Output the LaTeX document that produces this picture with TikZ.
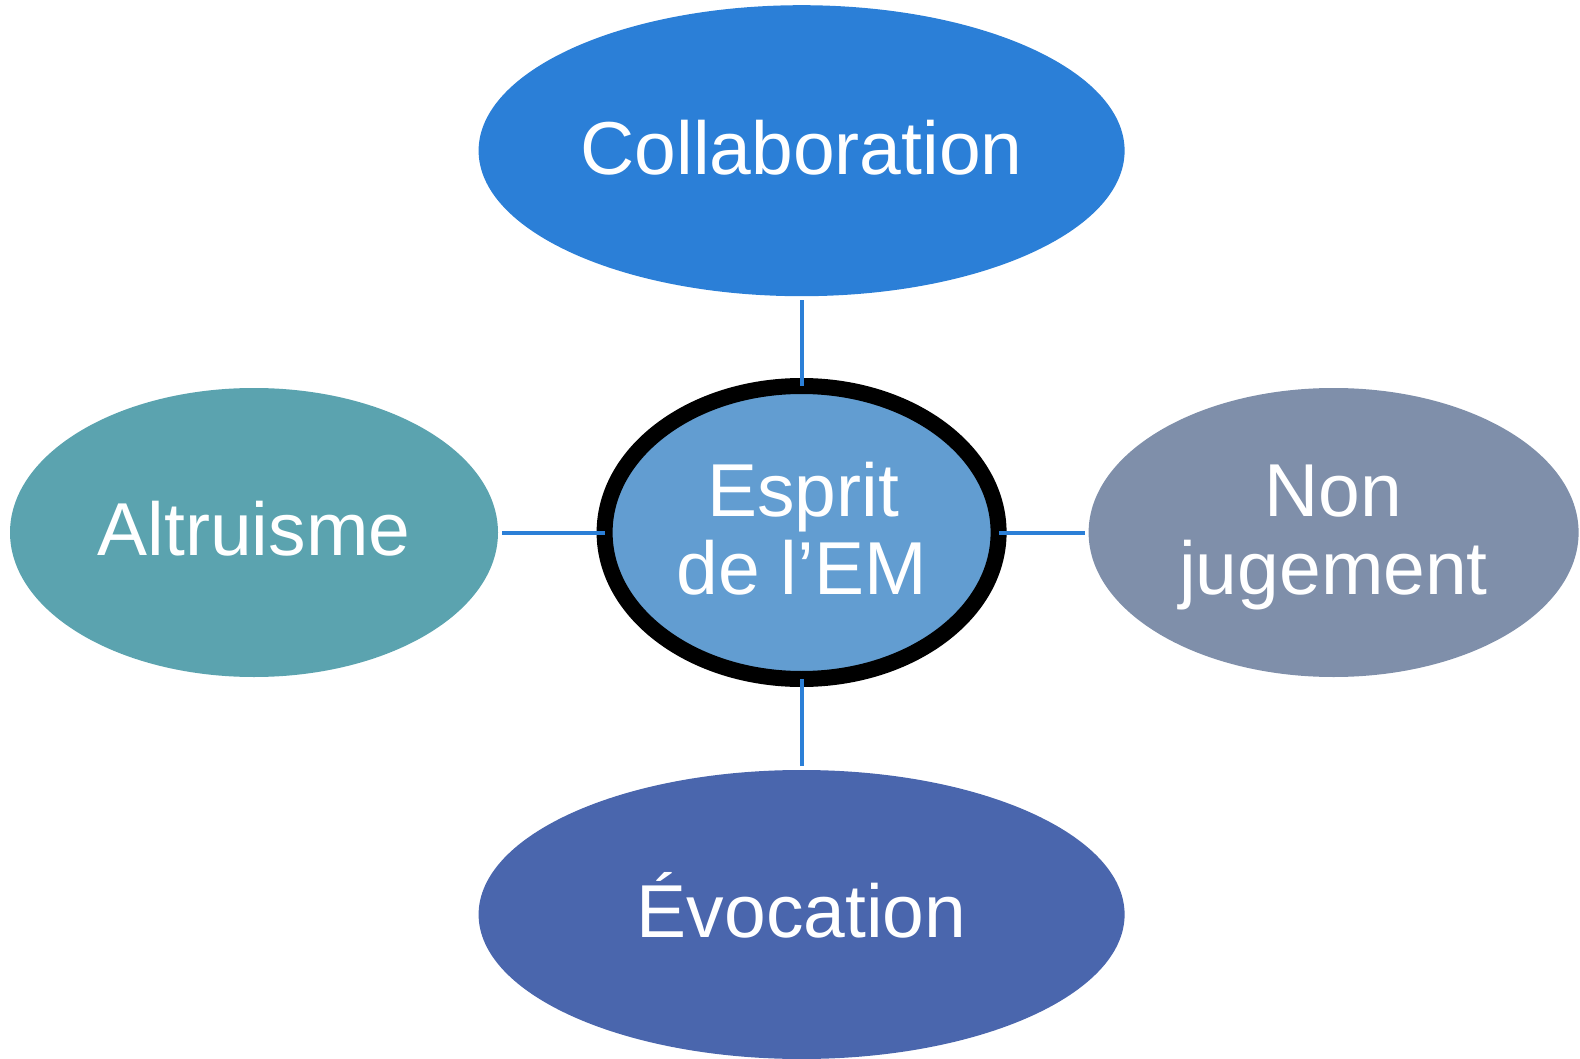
\documentclass[tikz,border=0pt]{standalone}
\usepackage{fontspec}
\setmainfont{Liberation Sans}
\usetikzlibrary{shapes.geometric}
\definecolor{cCollab}{RGB}{43,127,215}
\definecolor{cCore}{RGB}{98,157,209}
\definecolor{cAltru}{RGB}{91,163,175}
\definecolor{cNonJ}{RGB}{127,143,170}
\definecolor{cEvoc}{RGB}{74,102,173}
\definecolor{cLink}{RGB}{43,127,215}
\tikzset{
  bubble/.style={ellipse, draw=none, inner sep=0pt, outer sep=0pt},
  core/.style={ellipse, draw=black, line width=16pt, fill=cCore, inner sep=0pt, outer sep=0pt,
    minimum width=394pt, minimum height=293pt},
  lbl/.style={text=white, inner sep=0pt, anchor=base, font=\fontsize{75}{80}\selectfont},
  link/.style={draw=cLink, line width=4pt, shorten <=4pt}
}
\begin{document}
\begin{tikzpicture}[x=1pt, y=-1pt]
  \useasboundingbox (0,0) rectangle (1580,1059);
  % outer ideas
  \node[bubble, fill=cCollab, minimum width=646pt, minimum height=291pt] (collab) at (801.6,150.7) {};
  \node[bubble, fill=cAltru, minimum width=488pt, minimum height=289pt] (altru) at (254,532.5) {};
  \node[bubble, fill=cNonJ, minimum width=490pt, minimum height=289pt] (nonj) at (1333.6,532.5) {};
  \node[bubble, fill=cEvoc, minimum width=646pt, minimum height=289pt] (evoc) at (801.6,914.5) {};
  % connectors to the core
  \node[core] (core) at (801.6,532.5) {};
  \draw[link] (collab) -- (core);
  \draw[link] (altru) -- (core);
  \draw[link] (nonj) -- (core);
  \draw[link] (evoc) -- (core);
  % labels
  \node[lbl] (collabtxt) at (801.6,174.3) {Collaboration};
  \node[lbl] (altrutxt) at (254,555) {Altruisme};
  \node[lbl] (nonjtxtA) at (1333.6,516) {Non};
  \node[lbl] (nonjtxtB) at (1333.6,594.5) {jugement};
  \node[lbl] (evoctxt) at (801.6,937) {Évocation};
  \node[lbl] (coretxtA) at (803,516) {Esprit};
  \node[lbl] (coretxtB) at (801.6,594.5) {de l’EM};
\end{tikzpicture}
\end{document}
